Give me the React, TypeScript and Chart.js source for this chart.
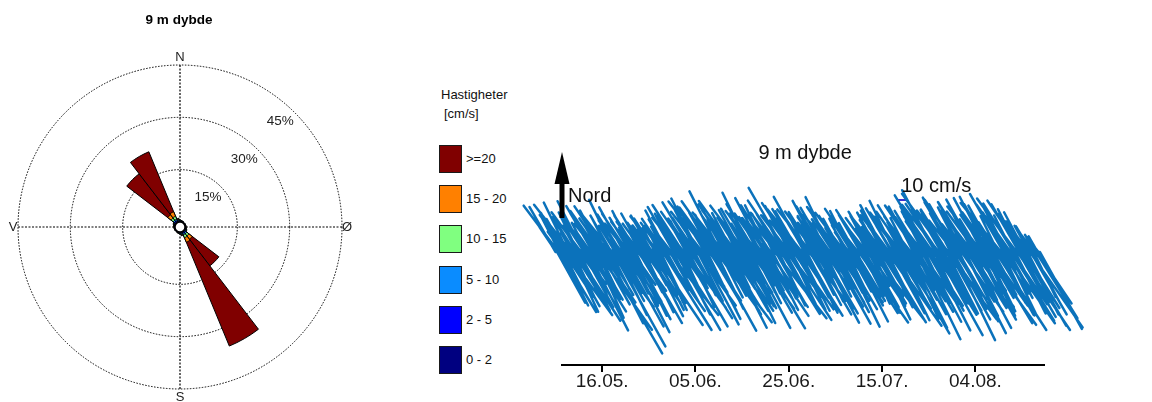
import React, { useEffect, useRef } from "react";
import { Chart, registerables } from "chart.js";

Chart.register(...registerables);

const FONT = '"Liberation Sans", Arial, Helvetica, sans-serif';

// ---------- Current rose (percent of time per 15° sector, per speed class) ----------
const SECTOR_DEG = [0, 15, 30, 45, 60, 75, 90, 105, 120, 135, 150, 165, 180, 195, 210, 225, 240, 255, 270, 285, 300, 315, 330, 345];
const FREQ_0_2 = [0.1, 0.1, 0.1, 0.1, 0.1, 0.1, 0.1, 0.1, 0.1, 0.2, 0.2, 0.1, 0.1, 0.1, 0.1, 0.1, 0.1, 0.1, 0.1, 0.1, 0.1, 0.2, 0.2, 0.1];
const FREQ_2_5 = [0.1, 0.1, 0.1, 0.05, 0.05, 0.05, 0.05, 0.1, 0.2, 0.3, 0.3, 0.2, 0.1, 0.1, 0.05, 0.05, 0.05, 0.05, 0.05, 0.1, 0.2, 0.3, 0.3, 0.2];
const FREQ_5_10 = [0.2, 0.1, 0.1, 0.1, 0.1, 0.1, 0.1, 0.1, 0.2, 0.5, 0.5, 0.3, 0.2, 0.1, 0.1, 0.1, 0.1, 0.1, 0.1, 0.1, 0.2, 0.5, 0.5, 0.3];
const FREQ_10_15 = [0.1, 0.1, 0, 0, 0, 0, 0, 0.1, 0.1, 0.8, 0.9, 0.2, 0.1, 0.1, 0, 0, 0, 0, 0, 0.1, 0.1, 0.8, 0.9, 0.2];
const FREQ_15_20 = [0, 0, 0, 0, 0, 0, 0, 0, 0.1, 1.2, 1.4, 0.1, 0, 0, 0, 0, 0, 0, 0, 0, 0.1, 1.2, 1.4, 0.1];
const FREQ_20 = [0, 0, 0, 0, 0, 0, 0, 0, 0, 9.6, 32.2, 0.2, 0, 0, 0, 0, 0, 0, 0, 0, 0, 14.8, 18.6, 0.2];

const SPEED_CLASSES = ["0 - 2", "2 - 5", "5 - 10", "10 - 15", "15 - 20", ">=20"];
const CLASS_COLORS = ["#000080", "#0000ff", "#0a8cff", "#80ff80", "#ff8000", "#800000"];
const RING_PCT = [15, 30, 45];
const CARDINALS = ["N", "Ø", "S", "V"];

// ---------- Current sticks (base time in days after 16.05., speed cm/s, direction deg) ----------
const STICK_STEP = 0.6667;

// flood peaks (towards NW)
const NW_T0 = -10;
const NW_SPEED = [
  52, 58, 44, 36, 55, 60, 41, 30, 49, 57, 38, 46, 53, 33, 50,
  47, 55, 35, 42, 58, 28, 44, 51, 36, 40, 46, 30, 38, 44, 33,
  36, 42, 27, 45, 31, 40, 47, 26, 52, 38, 44, 56, 33, 49, 58,
  41, 60, 35, 53, 64, 45, 30, 62, 68, 50, 38, 57, 44, 63, 36,
  48, 58, 33, 66, 45, 52, 39, 61, 42, 55, 30, 50, 44, 62, 74,
  46, 35, 59, 50, 41, 63, 37, 54, 47, 29, 58, 43, 51, 36, 61,
  44, 55, 38, 49, 31, 46, 52, 35, 43, 50, 28, 41, 47, 36, 45,
  39, 53, 46, 31, 57, 42, 50, 34, 55, 44, 38, 56, 48, 33, 52,
  66, 45, 70, 58, 36, 72, 50, 61, 40, 55, 63, 47, 35, 59, 52,
  60, 44, 57, 38, 62, 49, 53, 35, 63, 67, 46, 58, 41, 66, 55,
  62, 45, 38, 30, 24, 18,
];
const NW_DIR = [
  330, 323, 332, 326, 334, 322, 328, 331, 324, 333, 327, 322, 330, 329, 325,
  332, 326, 323, 330, 334, 324, 328, 331, 322, 329, 333, 325, 323, 331, 327,
  324, 330, 333, 322, 328, 326, 332, 323, 330, 334, 321, 327, 331, 325, 329,
  326, 333, 324, 329, 322, 331, 328, 325, 333, 322, 330, 327, 332, 324, 328,
  331, 323, 329, 334, 325, 322, 330, 332, 324, 328, 333, 321, 329, 326, 330,
  323, 332, 326, 329, 324, 331, 333, 322, 328, 325, 332, 324, 330, 327, 334,
  328, 325, 331, 323, 329, 333, 326, 323, 330, 327, 322, 332, 329, 324, 331,
  325, 332, 323, 330, 334, 327, 322, 331, 328, 324, 333, 326, 329, 323, 331,
  329, 322, 332, 326, 330, 324, 328, 333, 322, 330, 326, 332, 325, 328, 323,
  331, 327, 323, 329, 333, 324, 331, 328, 321, 330, 329, 325, 333, 324, 330,
  326, 332, 324, 329, 322, 330,
];

// flood, shoulder hours (towards NW)
const NW2_T0 = -9.833;
const NW2_SPEED = [
  30, 42, 25, 38, 47, 22, 35, 44, 28, 40, 33, 24, 45, 36, 29,
  41, 27, 37, 48, 31, 23, 39, 34, 46, 26, 38, 43, 21, 35, 30,
  25, 33, 40, 22, 36, 29, 38, 24, 43, 31, 27, 46, 35, 40, 28,
  47, 33, 51, 39, 28, 55, 42, 36, 49, 30, 45, 38, 52, 34, 41,
  37, 50, 43, 29, 56, 40, 47, 33, 52, 38, 44, 27, 49, 42, 35,
  52, 39, 31, 47, 55, 34, 44, 29, 50, 41, 37, 53, 32, 46, 39,
  35, 28, 43, 37, 24, 40, 33, 46, 30, 38, 26, 42, 35, 29, 44,
  47, 32, 40, 51, 36, 44, 28, 49, 38, 33, 52, 41, 30, 46, 37,
  43, 55, 38, 60, 47, 33, 52, 44, 58, 39, 50, 35, 48, 56, 42,
  50, 38, 61, 45, 33, 55, 47, 40, 58, 36, 52, 44, 57, 39, 48,
  45, 36, 30, 26, 20, 15,
];
const NW2_DIR = [
  326, 333, 324, 330, 322, 331, 328, 334, 323, 327, 332, 325, 329, 322, 330,
  325, 329, 333, 321, 328, 331, 324, 330, 326, 334, 323, 328, 331, 324, 332,
  330, 323, 327, 333, 324, 331, 329, 322, 333, 325, 329, 323, 332, 327, 321,
  333, 326, 322, 330, 328, 324, 332, 329, 321, 331, 325, 328, 323, 334, 327,
  324, 330, 333, 322, 329, 331, 325, 327, 334, 322, 330, 326, 323, 332, 328,
  332, 324, 328, 330, 321, 329, 326, 333, 324, 331, 322, 329, 333, 325, 327,
  323, 330, 327, 334, 325, 328, 331, 322, 329, 326, 333, 324, 327, 330, 321,
  332, 326, 324, 329, 332, 323, 330, 325, 333, 322, 331, 328, 324, 332, 326,
  330, 325, 328, 322, 333, 326, 323, 331, 329, 324, 333, 322, 330, 327, 332,
  324, 329, 332, 326, 323, 330, 327, 334, 321, 329, 332, 325, 328, 323, 333,
  328, 324, 331, 325, 329, 322,
];

// ebb peaks (towards SE)
const SE_T0 = -9.667;
const SE_SPEED = [
  58, 70, 45, 78, 62, 50, 82, 66, 40, 75, 88, 55, 72, 95, 60,
  117, 80, 52, 108, 70, 45, 85, 63, 90, 58, 76, 48, 82, 67, 55,
  72, 88, 50, 64, 92, 45, 80, 58, 90, 70, 42, 86, 61, 78, 53,
  66, 82, 47, 75, 58, 90, 63, 88, 50, 72, 85, 44, 68, 57, 79,
  62, 48, 86, 70, 55, 89, 44, 77, 65, 52, 84, 60, 73, 46, 81,
  58, 70, 43, 66, 75, 52, 61, 48, 72, 56, 80, 64, 45, 82, 59,
  68, 50, 83, 62, 45, 78, 57, 86, 49, 70, 63, 88, 54, 75, 47,
  82, 60, 90, 53, 76, 66, 94, 48, 85, 71, 58, 97, 64, 79, 52,
  88, 62, 95, 70, 50, 84, 67, 98, 57, 80, 73, 91, 46, 86, 68,
  78, 55, 90, 66, 83, 49, 93, 72, 60, 87, 52, 81, 69, 94, 58,
  85, 70, 92, 62, 78, 88,
];
const SE_DIR = [
  151, 149, 153, 144, 151, 154, 147, 152, 143, 150, 153, 148, 156, 145, 151,
  150, 153, 142, 151, 154, 148, 151, 145, 153, 149, 152, 144, 150, 154, 147,
  153, 146, 151, 155, 148, 151, 142, 152, 150, 153, 145, 150, 154, 148, 151,
  144, 152, 149, 153, 147, 151, 154, 143, 151, 150, 153, 147, 150, 145, 154,
  151, 148, 152, 144, 154, 149, 151, 146, 153, 150, 142, 153, 148, 151, 147,
  154, 145, 150, 153, 148, 151, 143, 153, 150, 147, 152, 154, 145, 151, 149,
  152, 147, 154, 144, 151, 153, 149, 145, 153, 150, 151, 142, 150, 154, 148,
  149, 153, 145, 151, 154, 147, 150, 144, 153, 151, 148, 154, 145, 152, 150,
  153, 146, 151, 148, 153, 143, 151, 154, 147, 150, 145, 153, 149, 152, 144,
  150, 153, 144, 154, 149, 151, 147, 151, 154, 145, 152, 148, 153, 146, 151,
  150, 153, 145, 152, 148, 151,
];

// ebb, shoulder hours (towards SE)
const SE2_T0 = -9.5;
const SE2_SPEED = [
  45, 60, 38, 52, 66, 41, 57, 35, 63, 48, 70, 43, 55, 39, 61,
  74, 50, 42, 68, 56, 36, 64, 47, 59, 40, 71, 53, 45, 62, 38,
  50, 65, 40, 57, 72, 44, 60, 37, 66, 52, 46, 69, 41, 58, 48,
  55, 42, 67, 49, 61, 38, 73, 51, 44, 64, 57, 40, 70, 47, 59,
  49, 63, 41, 58, 70, 46, 54, 38, 67, 52, 61, 43, 72, 50, 56,
  40, 57, 64, 45, 52, 68, 39, 60, 48, 55, 71, 44, 50, 63, 42,
  58, 46, 66, 40, 54, 61, 49, 72, 43, 57, 65, 38, 60, 51, 47,
  62, 52, 70, 45, 66, 57, 48, 74, 55, 63, 42, 69, 58, 50, 64,
  67, 49, 74, 58, 44, 69, 55, 77, 50, 63, 59, 72, 47, 66, 53,
  60, 46, 71, 53, 65, 42, 74, 57, 49, 68, 45, 63, 56, 75, 48,
  66, 55, 72, 50, 62, 70,
];
const SE2_DIR = [
  150, 153, 147, 151, 155, 148, 152, 144, 151, 154, 148, 153, 150, 154, 146,
  151, 149, 153, 144, 151, 154, 147, 152, 150, 145, 154, 149, 153, 145, 151,
  148, 153, 150, 154, 145, 151, 150, 153, 147, 151, 155, 144, 152, 149, 154,
  153, 146, 151, 154, 149, 152, 144, 153, 150, 148, 151, 154, 147, 151, 150,
  149, 153, 145, 152, 150, 154, 148, 151, 145, 153, 150, 154, 147, 151, 143,
  151, 148, 154, 146, 151, 153, 149, 152, 144, 154, 150, 147, 153, 150, 154,
  147, 152, 150, 154, 145, 151, 153, 148, 151, 155, 146, 153, 149, 151, 148,
  153, 145, 151, 154, 149, 152, 147, 154, 150, 144, 153, 150, 151, 154, 147,
  151, 154, 148, 152, 150, 153, 145, 151, 149, 154, 147, 153, 150, 148, 155,
  152, 147, 154, 150, 145, 151, 149, 153, 148, 154, 151, 146, 153, 150, 151,
  148, 153, 150, 154, 146, 151,
];

const TICK_DAYS = [0, 20, 40, 60, 80];
const TICK_LABELS = ["16.05.", "05.06.", "25.06.", "15.07.", "04.08."];
const X_MIN = -8.6;
const X_MAX = 94.7;
const Y_MIN = -113;
const Y_MAX = 112;
// days on the time axis that correspond to 1 cm/s, giving equal scaling east/north
const DAYS_PER_CMS = 0.2143;
const SCALE_BAR_CMS = 10;
const SCALE_BAR_AT = { day: 63.4, v: 52 };
const STICK_COLOR = "#0b72bb";

function RoseChart() {
  const ref = useRef<HTMLCanvasElement>(null);
  useEffect(() => {
    const classes = [FREQ_0_2, FREQ_2_5, FREQ_5_10, FREQ_10_15, FREQ_15_20, FREQ_20];
    let run = SECTOR_DEG.map(() => 0);
    const stacked: number[][] = classes.map((arr) => {
      run = run.map((v, i) => v + arr[i]);
      return run.slice();
    });
    const datasets = stacked.map((data, i) => ({
      label: SPEED_CLASSES[i],
      data,
      backgroundColor: CLASS_COLORS[i],
      borderColor: "#000",
      borderWidth: 1,
    }));

    const decor = {
      id: "roseDecor",
      beforeDatasetsDraw(chart: any) {
        const r = chart.scales.r;
        const ctx = chart.ctx;
        const R = r.getDistanceFromCenterForValue(45);
        ctx.save();
        ctx.strokeStyle = "#000";
        ctx.lineWidth = 1.2;
        ctx.setLineDash([2, 1.5]);
        ctx.beginPath();
        ctx.moveTo(r.xCenter, r.yCenter - R);
        ctx.lineTo(r.xCenter, r.yCenter + R);
        ctx.moveTo(r.xCenter - R, r.yCenter);
        ctx.lineTo(r.xCenter + R, r.yCenter);
        ctx.stroke();
        ctx.restore();
      },
      afterDatasetsDraw(chart: any) {
        const r = chart.scales.r;
        const ctx = chart.ctx;
        const cx = r.xCenter;
        const cy = r.yCenter;
        ctx.save();
        // hub
        ctx.beginPath();
        ctx.arc(cx, cy, r.getDistanceFromCenterForValue(0), 0, Math.PI * 2);
        ctx.fillStyle = "#fff";
        ctx.fill();
        ctx.lineWidth = 1.5;
        ctx.strokeStyle = "#000";
        ctx.stroke();
        // ring labels
        ctx.fillStyle = "#222";
        ctx.font = `13.5px ${FONT}`;
        ctx.textAlign = "center";
        ctx.textBaseline = "middle";
        const a = (43.5 * Math.PI) / 180;
        RING_PCT.forEach((p) => {
          const d = r.getDistanceFromCenterForValue(p) - 16.5;
          ctx.fillText(`${p}%`, cx + d * Math.sin(a), cy - d * Math.cos(a));
        });
        // compass letters
        const R = r.getDistanceFromCenterForValue(45);
        ctx.font = `13px ${FONT}`;
        ctx.fillText(CARDINALS[0], cx, cy - R - 8);
        ctx.fillText(CARDINALS[1], cx + R + 5, cy);
        ctx.fillText(CARDINALS[2], cx, cy + R + 8);
        ctx.fillText(CARDINALS[3], cx - R - 5, cy);
        // title
        ctx.fillStyle = "#000";
        ctx.font = `bold 13.5px ${FONT}`;
        ctx.fillText("9 m dybde", 179, 20);
        ctx.restore();
      },
    };

    const chart = new Chart(ref.current as HTMLCanvasElement, {
      type: "polarArea",
      data: { labels: SECTOR_DEG.map((d) => `${d}`), datasets },
      options: {
        responsive: false,
        animation: false,
        events: [],
        layout: { padding: { left: 18, top: 65, right: 28, bottom: 13 } },
        plugins: { legend: { display: false }, tooltip: { enabled: false } },
        scales: {
          r: {
            min: -1.44,
            max: 45,
            startAngle: -7.5,
            ticks: { display: false },
            pointLabels: { display: false },
            angleLines: { display: false },
            grid: { color: "#000", lineWidth: 1, circular: true },
            border: { dash: [1.5, 1.5] },
            afterBuildTicks: (s: any) => {
              s.ticks = RING_PCT.map((v) => ({ value: v }));
            },
          },
        },
      } as any,
      plugins: [decor],
    });
    return () => chart.destroy();
  }, []);
  return <canvas ref={ref} width={370} height={402} style={{ position: "absolute", left: 0, top: 0 }} />;
}

function StickChart() {
  const ref = useRef<HTMLCanvasElement>(null);
  useEffect(() => {
    const sticks: { x: number; y: number | null }[] = [];
    const addSeries = (t0: number, speeds: number[], dirs: number[]) => {
      speeds.forEach((speed, k) => {
        const t = t0 + k * STICK_STEP;
        const a = (dirs[k] * Math.PI) / 180;
        const u = speed * Math.sin(a);
        const v = speed * Math.cos(a);
        sticks.push({ x: t, y: 0 }, { x: t + u * DAYS_PER_CMS, y: v }, { x: t, y: null });
      });
    };
    addSeries(NW_T0, NW_SPEED, NW_DIR);
    addSeries(NW2_T0, NW2_SPEED, NW2_DIR);
    addSeries(SE_T0, SE_SPEED, SE_DIR);
    addSeries(SE2_T0, SE2_SPEED, SE2_DIR);

    const scaleBar = [
      { x: SCALE_BAR_AT.day, y: SCALE_BAR_AT.v },
      { x: SCALE_BAR_AT.day + SCALE_BAR_CMS * DAYS_PER_CMS, y: SCALE_BAR_AT.v },
    ];

    const decor = {
      id: "stickDecor",
      afterDatasetsDraw(chart: any) {
        const { x, y } = chart.scales;
        const ctx = chart.ctx;
        ctx.save();
        // north arrow
        const ax = x.getPixelForValue(X_MIN);
        const yBase = y.getPixelForValue(34);
        const yNeck = y.getPixelForValue(69);
        const yTip = y.getPixelForValue(100);
        ctx.fillStyle = "#000";
        ctx.fillRect(ax - 2.5, yNeck, 5, yBase - yNeck);
        ctx.beginPath();
        ctx.moveTo(ax - 7.5, yNeck + 1);
        ctx.lineTo(ax + 7.5, yNeck + 1);
        ctx.lineTo(ax, yTip);
        ctx.closePath();
        ctx.fill();
        ctx.fillStyle = "#111";
        ctx.font = `20px ${FONT}`;
        ctx.textBaseline = "middle";
        ctx.textAlign = "left";
        ctx.fillText("Nord", ax + 6, y.getPixelForValue(56));
        ctx.fillText(`${SCALE_BAR_CMS} cm/s`, x.getPixelForValue(64.1), y.getPixelForValue(66));
        ctx.textAlign = "center";
        ctx.fillText("9 m dybde", x.getPixelForValue(43.5), y.getPixelForValue(99));
        ctx.restore();
      },
    };

    const chart = new Chart(ref.current as HTMLCanvasElement, {
      type: "line",
      data: {
        datasets: [
          {
            data: sticks,
            borderColor: STICK_COLOR,
            borderWidth: 2.5,
            borderCapStyle: "round",
            pointRadius: 0,
            tension: 0,
            spanGaps: false,
            clip: false,
          },
          {
            data: scaleBar,
            borderColor: "#3a2fd0",
            borderWidth: 2,
            pointRadius: 0,
            clip: false,
          },
        ],
      },
      options: {
        responsive: false,
        animation: false,
        events: [],
        layout: { padding: { left: 47, right: 108, top: 140, bottom: 11 } },
        plugins: { legend: { display: false }, tooltip: { enabled: false } },
        scales: {
          x: {
            type: "linear",
            min: X_MIN,
            max: X_MAX,
            afterBuildTicks: (s: any) => {
              s.ticks = TICK_DAYS.map((v) => ({ value: v }));
            },
            ticks: {
              autoSkip: false,
              maxRotation: 0,
              padding: 0,
              color: "#1a1a1a",
              font: { size: 19, family: FONT, lineHeight: 1 },
              callback: (_v: any, i: number) => TICK_LABELS[i],
            },
            grid: {
              drawOnChartArea: false,
              drawTicks: true,
              tickLength: 7,
              color: "#000",
              tickColor: "#000",
              lineWidth: 2,
              tickWidth: 2,
            },
            border: { display: true, color: "#000", width: 2 },
          },
          y: { display: false, min: Y_MIN, max: Y_MAX },
        },
      } as any,
      plugins: [decor],
    });
    return () => chart.destroy();
  }, []);
  return <canvas ref={ref} width={637} height={402} style={{ position: "absolute", left: 515, top: 0 }} />;
}

function SpeedLegend() {
  const order = [5, 4, 3, 2, 1, 0];
  return (
    <div style={{ position: "absolute", left: 0, top: 0, font: `13px ${FONT}`, color: "#111" }}>
      <div style={{ position: "absolute", left: 441, top: 85, lineHeight: "19px", whiteSpace: "nowrap" }}>Hastigheter</div>
      <div style={{ position: "absolute", left: 444, top: 104, lineHeight: "19px", whiteSpace: "nowrap" }}>[cm/s]</div>
      {order.map((ci, row) => (
        <React.Fragment key={ci}>
          <div
            style={{
              position: "absolute",
              left: 439,
              top: 145 + row * 40.2,
              width: 23,
              height: 28,
              boxSizing: "border-box",
              border: "1.5px solid #1a1a1a",
              background: CLASS_COLORS[ci],
            }}
          />
          <div
            style={{
              position: "absolute",
              left: 466,
              top: 145 + row * 40.2,
              height: 28,
              lineHeight: "28px",
              whiteSpace: "nowrap",
            }}
          >
            {SPEED_CLASSES[ci]}
          </div>
        </React.Fragment>
      ))}
    </div>
  );
}

export default function App() {
  return (
    <div style={{ position: "absolute", left: 0, top: 0, width: 1152, height: 402, background: "#fff", overflow: "hidden" }}>
      <RoseChart />
      <SpeedLegend />
      <StickChart />
    </div>
  );
}
